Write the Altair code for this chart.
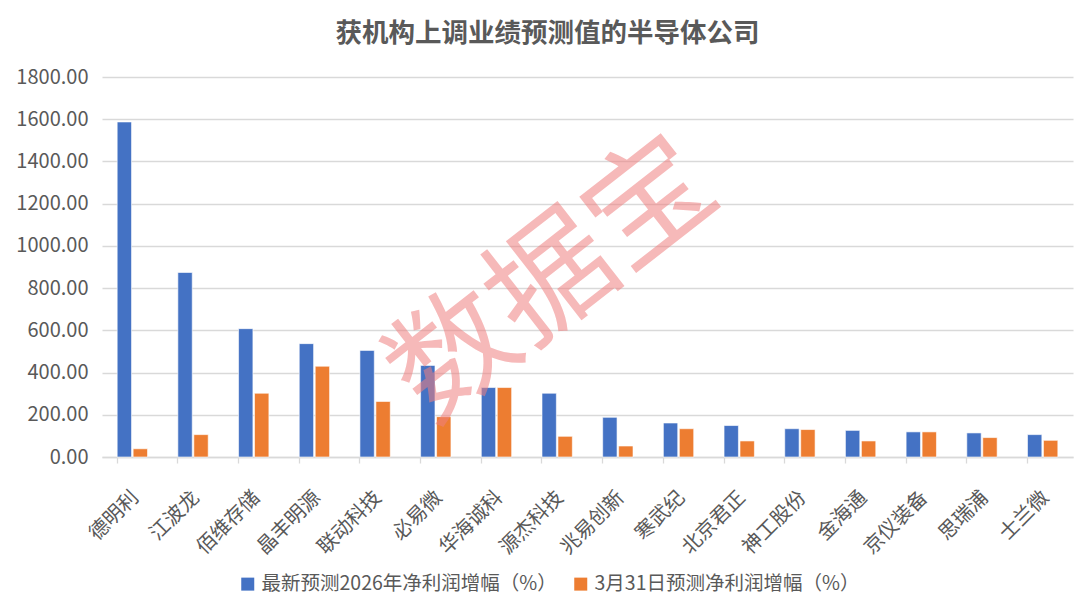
import altair as alt
import pandas as pd

companies = ["德明利", "江波龙", "佰维存储", "晶丰明源", "联动科技", "必易微", "华海诚科", "源杰科技",
             "兆易创新", "寒武纪", "北京君正", "神工股份", "金海通", "京仪装备", "思瑞浦", "士兰微"]
latest = [1587, 874, 608, 537, 505, 434, 329, 302, 188, 161, 149, 134, 126, 119, 114, 106]
march31 = [39, 106, 302, 430, 263, 191, 329, 98, 52, 134, 76, 130, 76, 119, 92, 79]

s1 = "最新预测2026年净利润增幅（%）"
s2 = "3月31日预测净利润增幅（%）"

rows = []
for c, a, b in zip(companies, latest, march31):
    rows.append({"公司": c, "系列": s1, "值": a})
    rows.append({"公司": c, "系列": s2, "值": b})
df = pd.DataFrame(rows)

FONT = "Noto Sans CJK SC"
GRAY = "#595959"

bars = alt.Chart(df).mark_bar(stroke="white", strokeWidth=0.6).encode(
    x=alt.X("公司:N", sort=companies, title=None,
            scale=alt.Scale(paddingInner=0.5, paddingOuter=0.25),
            axis=alt.Axis(labelAngle=315, labelAlign="right", labelBaseline="middle",
                          labelFontSize=20, labelColor=GRAY, labelFont=FONT,
                          bandPosition=0, labelOffset=3, labelPadding=31,
                          domainColor="#d9d9d9", domainWidth=1.3,
                          tickColor="#d9d9d9", tickSize=6, tickWidth=1.3,
                          ticks=True, grid=False)),
    xOffset=alt.XOffset("系列:N", sort=[s1, s2], scale=alt.Scale(paddingInner=0.1)),
    y=alt.Y("值:Q", title=None,
            scale=alt.Scale(domain=[0, 1800], nice=False),
            axis=alt.Axis(values=list(range(0, 1801, 200)), format=".2f",
                          labelFontSize=20, labelColor=GRAY, labelFont=FONT,
                          domain=False, ticks=False, labelPadding=14,
                          gridColor="#d9d9d9", gridWidth=1.3)),
    color=alt.Color("系列:N", sort=[s1, s2],
                    scale=alt.Scale(domain=[s1, s2], range=["#4472C4", "#ED7D31"]),
                    legend=alt.Legend(title=None, orient="none", direction="horizontal",
                                      legendX=136, legendY=497,
                                      symbolType="square", symbolSize=169,
                                      symbolStrokeWidth=0, symbolOffset=0,
                                      labelFontSize=19.5, labelColor=GRAY, labelFont=FONT,
                                      columnPadding=14, labelLimit=450)),
)

wm = alt.Chart(pd.DataFrame({"t": ["数据宝"]})).mark_text(
    font=FONT, fontSize=124, color="#f08080", opacity=0.55, angle=322,
    align="center", baseline="middle"
).encode(text="t:N", x=alt.value(452), y=alt.value(205))

chart = alt.layer(bars, wm).properties(
    width=971, height=380,
    title=alt.TitleParams("获机构上调业绩预测值的半导体公司", font=FONT, fontSize=26.5,
                          fontWeight="bold", color=GRAY, anchor="middle", dx=-40, offset=20),
    autosize=alt.AutoSizeParams(type="none"),
    padding={"left": 102, "top": 77, "right": 7, "bottom": 156},
).configure_view(stroke=None)

chart.save("out.html", embed_options={"renderer": "svg", "actions": False})
